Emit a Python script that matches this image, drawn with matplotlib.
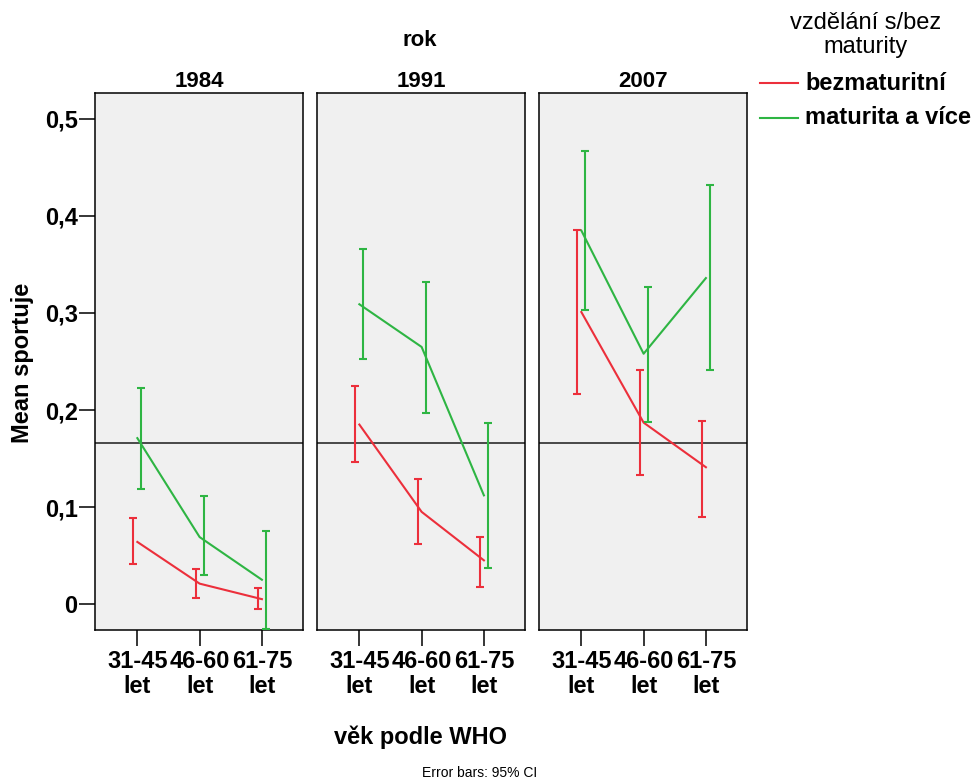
import matplotlib.pyplot as plt
import numpy as np

plt.rc('font', family='Liberation Sans')

# mean and 95% CI of "sportuje" by age group, education and year
years = ['1984', '1991', '2007']
ages = ['31-45\nlet', '46-60\nlet', '61-75\nlet']
groups = ['bezmaturitní', 'maturita a více']
colors = ['#ec2f3b', '#2eb543']

mean_bez = [[0.064, 0.021, 0.005], [0.185, 0.095, 0.045], [0.301, 0.187, 0.141]]
low_bez = [[0.041, 0.006, -0.005], [0.146, 0.062, 0.018], [0.216, 0.133, 0.090]]
high_bez = [[0.089, 0.036, 0.016], [0.225, 0.129, 0.069], [0.386, 0.241, 0.189]]

mean_mat = [[0.171, 0.069, 0.025], [0.309, 0.265, 0.112], [0.385, 0.258, 0.336]]
low_mat = [[0.119, 0.030, -0.026], [0.253, 0.197, 0.037], [0.303, 0.188, 0.241]]
high_mat = [[0.223, 0.111, 0.075], [0.366, 0.332, 0.187], [0.467, 0.327, 0.432]]

overall_mean = 0.166

means = [mean_bez, mean_mat]
lows = [low_bez, low_mat]
highs = [high_bez, high_mat]
dodge = [-0.065, 0.065]

fig = plt.figure(figsize=(9.72, 7.83), dpi=100)
W, H = 972.0, 783.0
lefts = [95, 317, 539]
pw = 208
top, bottom = 93, 630
x = np.arange(len(ages))
FS = 17

for k, yr in enumerate(years):
    ax = fig.add_axes([lefts[k] / W, 1 - bottom / H, pw / W, (bottom - top) / H])
    ax.set_facecolor('#f0f0f0')
    ax.axhline(overall_mean, color='#1a1a1a', lw=1.1, zorder=1)
    for g in range(2):
        m = np.array(means[g][k])
        lo = np.array(lows[g][k])
        hi = np.array(highs[g][k])
        ax.plot(x, m, color=colors[g], lw=1.5, zorder=3)
        ax.errorbar(x + dodge[g], (lo + hi) / 2, yerr=[(hi - lo) / 2, (hi - lo) / 2],
                    fmt='none', ecolor=colors[g], elinewidth=1.5, capsize=2.6,
                    capthick=1.5, zorder=3)
    ax.set_xlim(-0.68, 2.66)
    ax.set_ylim(-0.0268, 0.5268)
    ax.set_xticks(x)
    ax.set_xticklabels(ages, fontsize=FS, fontweight='bold', linespacing=1.1)
    ax.set_yticks(np.arange(0, 0.51, 0.1))
    if k == 0:
        ax.set_yticklabels(['0', '0,1', '0,2', '0,3', '0,4', '0,5'],
                           fontsize=FS, fontweight='bold')
    else:
        ax.tick_params(axis='y', left=False, labelleft=False)
    ax.tick_params(direction='out', length=11.5, width=1.1)
    ax.tick_params(axis='y', pad=1)
    ax.tick_params(axis='x', pad=3)
    for s in ax.spines.values():
        s.set_linewidth(1.1)
    ax.set_title(yr, fontsize=16, fontweight='bold', pad=4)

fig.text(420 / W, 1 - 40 / H, 'rok', ha='center', va='center',
         fontsize=16, fontweight='bold')
fig.text(420 / W, 1 - 737 / H, 'věk podle WHO', ha='center', va='center',
         fontsize=FS, fontweight='bold')
fig.text(22 / W, 1 - 363 / H, 'Mean sportuje', ha='center', va='center',
         rotation=90, fontsize=FS, fontweight='bold')
fig.text(480 / W, 1 - 773 / H, 'Error bars: 95% CI', ha='center', va='center',
         fontsize=10)

# legend
fig.text(866 / W, 1 - 35 / H, 'vzdělání s/bez\nmaturity', ha='center', va='center',
         fontsize=17, linespacing=1.15)
for g in range(2):
    yy = 1 - (83 + 35 * g) / H
    fig.add_artist(plt.Line2D([760 / W, 798 / W], [yy, yy], color=colors[g], lw=1.5))
    fig.text(805 / W, yy, groups[g], ha='left', va='center', fontsize=FS,
             fontweight='bold')

fig.savefig('out.png', dpi=100)
